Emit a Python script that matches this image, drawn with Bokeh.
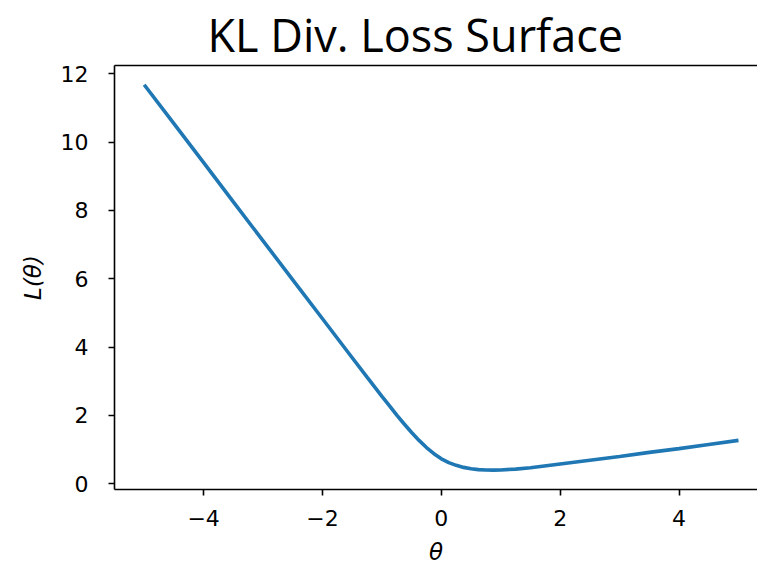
from bokeh.plotting import figure
from bokeh.models import Range1d, LinearAxis, FixedTicker
from bokeh.embed import file_html
from bokeh.resources import INLINE

# Values
theta = [-5.0, -4.5, -4.0, -3.5, -3.0, -2.5, -2.0, -1.5, -1.25, -1.0, -0.875,
         -0.75, -0.625, -0.5, -0.375, -0.25, -0.125, 0.0, 0.125, 0.25, 0.375,
         0.5, 0.625, 0.75, 0.875, 1.0, 1.25, 1.5, 2.0, 2.5, 3.0, 3.5,
         4.0, 4.5, 5.0]
loss = [11.68, 10.54, 9.40, 8.25, 7.11, 5.97, 4.83, 3.69, 3.12, 2.56, 2.29,
        2.01, 1.75, 1.50, 1.27, 1.06, 0.88, 0.73, 0.62, 0.54, 0.48,
        0.44, 0.415, 0.405, 0.40, 0.405, 0.43, 0.47, 0.58, 0.69, 0.80, 0.92,
        1.03, 1.15, 1.27]
x_ticks = [-4, -2, 0, 2, 4]
y_ticks = [0, 2, 4, 6, 8, 10, 12]

p = figure(width=757, height=572, output_backend="svg", toolbar_location=None,
           x_range=Range1d(-5.5, 5.32), y_range=Range1d(-0.167, 12.243),
           min_border_left=114, min_border_right=0, min_border_top=65,
           min_border_bottom=83, title="KL Div. Loss Surface")

p.line(theta, loss, line_color="#1f77b4", line_width=3.6)

p.title.text_font = "Open Sans"
p.title.text_font_size = "45px"
p.title.text_font_style = "normal"
p.title.text_color = "black"
p.title.align = "left"
p.title.offset = 93
p.title.standoff = 1

p.xgrid.visible = False
p.ygrid.visible = False
p.outline_line_color = None
p.background_fill_color = "white"
p.border_fill_color = "white"

for ax in (p.xaxis[0], p.yaxis[0]):
    ax.axis_line_color = "black"
    ax.axis_line_width = 1.6
    ax.major_tick_line_color = "black"
    ax.major_tick_line_width = 1.6
    ax.major_tick_in = 0
    ax.major_tick_out = 6
    ax.minor_tick_line_color = None
    ax.major_label_text_font = "DejaVu Sans"
    ax.major_label_text_font_size = "22px"
    ax.major_label_text_color = "black"
    ax.axis_label_text_font = "DejaVu Sans"
    ax.axis_label_text_font_size = "23px"
    ax.axis_label_text_font_style = "italic"
    ax.axis_label_text_color = "black"

p.xaxis[0].ticker = FixedTicker(ticks=x_ticks)
p.yaxis[0].ticker = FixedTicker(ticks=y_ticks)
p.xaxis[0].major_label_overrides = {t: ("\u2212" + str(-t) if t < 0 else str(t)) for t in x_ticks}
p.xaxis[0].axis_label = "θ"
p.yaxis[0].axis_label = "L(θ)"
p.xaxis[0].major_label_standoff = 14
p.yaxis[0].major_label_standoff = 20
p.xaxis[0].axis_label_standoff = 10
p.yaxis[0].axis_label_standoff = 12

top = LinearAxis(ticker=FixedTicker(ticks=[]), major_tick_out=0, major_tick_in=0,
                 minor_tick_out=0, minor_tick_in=0,
                 major_label_text_font_size="0px",
                 axis_line_color="black", axis_line_width=1.6)
p.add_layout(top, "above")

open("out.html", "w").write(file_html(p, INLINE))
